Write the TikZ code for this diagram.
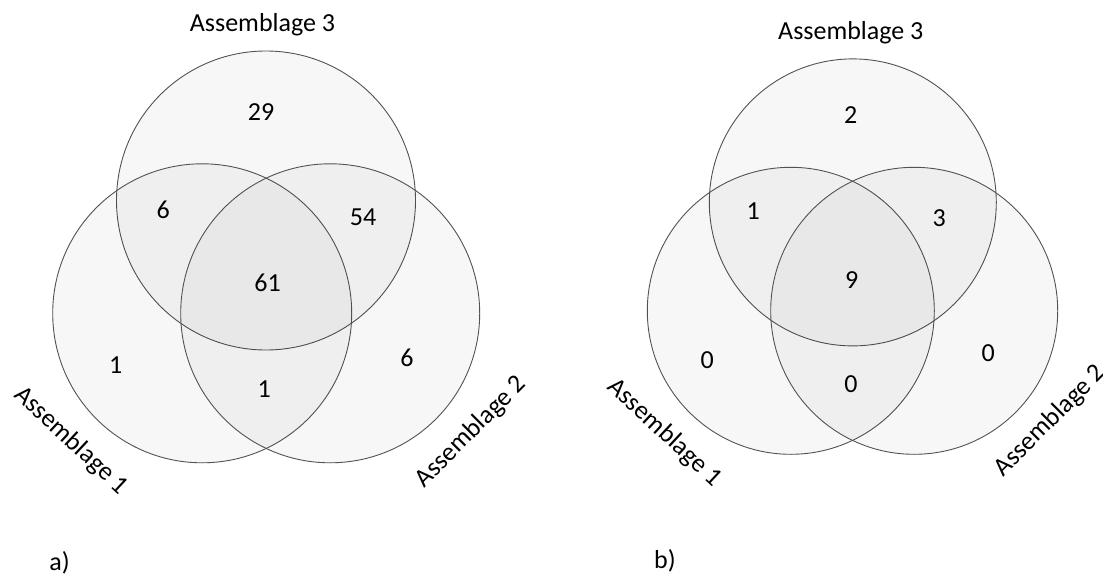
\documentclass[tikz,border=0pt]{standalone}
\usepackage{fontspec}
\setmainfont{Carlito}
\usepackage{tikz}

\begin{document}
\begin{tikzpicture}[
    x=1pt, y=-1pt,
    font=\fontsize{26}{30}\selectfont,
    venn/.style={draw=black!68, line width=0.9pt, fill=black, fill opacity=0.03},
    count/.style={inner sep=0pt},
    setlabel/.style={inner sep=0pt}
]
\useasboundingbox (0,0) rectangle (1103,575);

% panel a
\draw[venn] (266,200.5) circle [radius=149.5];
\draw[venn] (202.2,313.3) circle [radius=149.5];
\draw[venn] (330.2,313.3) circle [radius=149.5];

\node[setlabel] (a3) at (262.5,25) {Assemblage 3};
\node[setlabel, rotate=-43] (a1) at (71,441) {Assemblage 1};
\node[setlabel, rotate=45] (a2) at (471,432) {Assemblage 2};

\node[count] (a-only3) at (261,111.8) {29};
\node[count] (a-13) at (163.1,209.8) {6};
\node[count] (a-23) at (363,217) {54};
\node[count] (a-123) at (267.6,282.4) {61};
\node[count] (a-only1) at (115.7,364.9) {1};
\node[count] (a-12) at (264.1,389.4) {1};
\node[count] (a-only2) at (406.9,357.5) {6};

\node[setlabel] (tag-a) at (59.6,562.9) {a)};

% panel b
\draw[venn] (852.8,202.4) circle [radius=143.5];
\draw[venn] (790.8,310.8) circle [radius=143.5];
\draw[venn] (914.2,310.8) circle [radius=143.5];

\node[setlabel] (b3) at (850.8,33) {Assemblage 3};
\node[setlabel, rotate=-43] (b1) at (664.2,432.7) {Assemblage 1};
\node[setlabel, rotate=45] (b2) at (1050,421) {Assemblage 2};

\node[count] (b-only3) at (850.7,115.5) {2};
\node[count] (b-13) at (753.3,210.9) {1};
\node[count] (b-23) at (939.3,218.2) {3};
\node[count] (b-123) at (851.7,280.5) {9};
\node[count] (b-only1) at (707.3,360.1) {0};
\node[count] (b-12) at (851,383.9) {0};
\node[count] (b-only2) at (988.3,352.8) {0};

\node[setlabel] (tag-b) at (665,561) {b)};
\end{tikzpicture}
\end{document}
